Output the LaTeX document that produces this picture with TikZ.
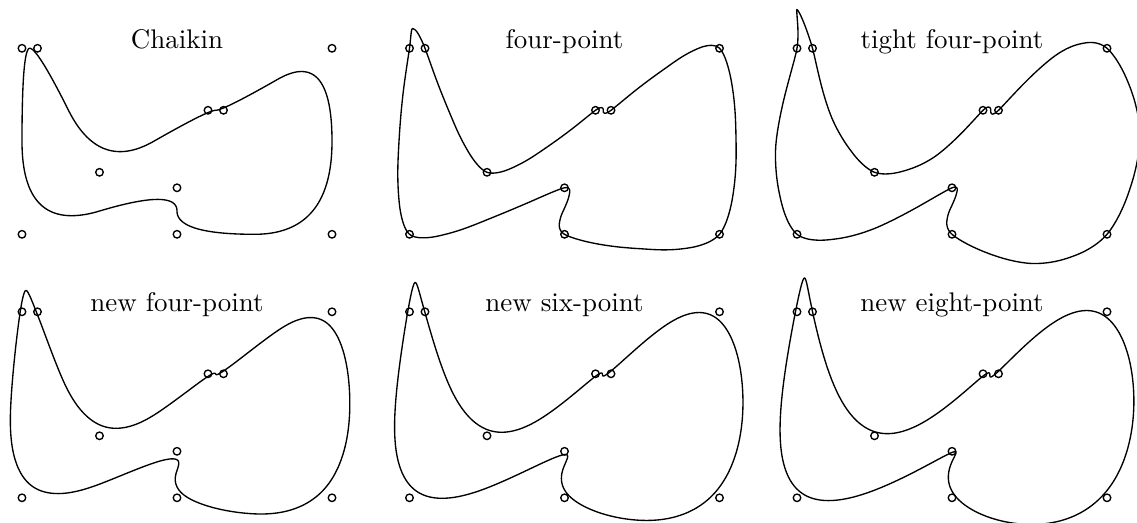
\documentclass[tikz,border=0pt]{standalone}
\ExplSyntaxOn
\int_new:N \l__sub_n_int
\int_new:N \l__sub_k_int
\fp_new:N \l__sub_w_fp
\tl_new:N \l__sub_ex_tl
\tl_new:N \l__sub_ey_tl
\tl_new:N \l__sub_path_tl
\tl_new:N \l__sub_name_tl
\tl_new:N \l__sub_pts_tl
\seq_new:N \l__sub_even_seq
\seq_new:N \l__sub_odd_seq

\cs_new_protected:Npn \__sub_lagrange:Nnnn #1 #2 #3 #4
  {
    \seq_clear:N #1
    \int_step_inline:nnn {#2} {#3}
      {
        \fp_set:Nn \l__sub_w_fp {1}
        \int_step_inline:nnn {#2} {#3}
          {
            \int_compare:nNnF {##1} = {####1}
              {
                \fp_set:Nn \l__sub_w_fp
                  { \l__sub_w_fp * ( (#4) - (####1) ) / ( (##1) - (####1) ) }
              }
          }
        \seq_put_right:Nx #1 { {##1} { \fp_use:N \l__sub_w_fp } }
      }
  }

\cs_new_protected:Npn \__sub_fourpoint:n #1
  {
    \seq_clear:N \l__sub_even_seq
    \seq_put_right:Nn \l__sub_even_seq { {0}{1} }
    \seq_clear:N \l__sub_odd_seq
    \seq_put_right:Nx \l__sub_odd_seq { {-1}{ \fp_to_decimal:n { -(#1) } } }
    \seq_put_right:Nx \l__sub_odd_seq { {0}{ \fp_to_decimal:n { 0.5 + (#1) } } }
    \seq_put_right:Nx \l__sub_odd_seq { {1}{ \fp_to_decimal:n { 0.5 + (#1) } } }
    \seq_put_right:Nx \l__sub_odd_seq { {2}{ \fp_to_decimal:n { -(#1) } } }
  }

\cs_new_protected:Npn \__sub_scheme:n #1
  {
    \str_case:nn {#1}
      {
        {chaikin}
          {
            \seq_clear:N \l__sub_even_seq
            \seq_put_right:Nn \l__sub_even_seq { {0}{0.75} }
            \seq_put_right:Nn \l__sub_even_seq { {1}{0.25} }
            \seq_clear:N \l__sub_odd_seq
            \seq_put_right:Nn \l__sub_odd_seq { {0}{0.25} }
            \seq_put_right:Nn \l__sub_odd_seq { {1}{0.75} }
          }
        {four}  { \__sub_fourpoint:n { 1/16 } }
        {tight} { \__sub_fourpoint:n { 1/8 } }
        {dualfour}
          {
            \__sub_lagrange:Nnnn \l__sub_even_seq {-1} {2} {0.25}
            \__sub_lagrange:Nnnn \l__sub_odd_seq {-1} {2} {0.75}
          }
        {dualsix}
          {
            \__sub_lagrange:Nnnn \l__sub_even_seq {-2} {3} {0.25}
            \__sub_lagrange:Nnnn \l__sub_odd_seq {-2} {3} {0.75}
          }
        {dualeight}
          {
            \__sub_lagrange:Nnnn \l__sub_even_seq {-3} {4} {0.25}
            \__sub_lagrange:Nnnn \l__sub_odd_seq {-3} {4} {0.75}
          }
      }
  }

\cs_new_protected:Npn \__sub_point:Nnn #1 #2 #3
  {
    \tl_clear:N \l__sub_ex_tl
    \tl_clear:N \l__sub_ey_tl
    \seq_map_inline:Nn #1
      {
        \int_set:Nn \l__sub_k_int
          { \int_mod:nn { #2 + \use_i:nn ##1 + 8 * \l__sub_n_int } { \l__sub_n_int } }
        \tl_put_right:Nx \l__sub_ex_tl
          { + ( \use_ii:nn ##1 ) * ( \use:c { l__sub_x_ \int_use:N \l__sub_k_int _tl } ) }
        \tl_put_right:Nx \l__sub_ey_tl
          { + ( \use_ii:nn ##1 ) * ( \use:c { l__sub_y_ \int_use:N \l__sub_k_int _tl } ) }
      }
    \tl_set:cx { l__sub_nx_ #3 _tl } { \fp_to_decimal:n { 0 \l__sub_ex_tl } }
    \tl_set:cx { l__sub_ny_ #3 _tl } { \fp_to_decimal:n { 0 \l__sub_ey_tl } }
  }

\cs_new_protected:Npn \__sub_step:
  {
    \int_step_inline:nnn {0} { \l__sub_n_int - 1 }
      {
        \__sub_point:Nnn \l__sub_even_seq {##1} { \int_eval:n { 2 * ##1 } }
        \__sub_point:Nnn \l__sub_odd_seq {##1} { \int_eval:n { 2 * ##1 + 1 } }
      }
    \int_set:Nn \l__sub_n_int { 2 * \l__sub_n_int }
    \int_step_inline:nnn {0} { \l__sub_n_int - 1 }
      {
        \tl_set_eq:cc { l__sub_x_ ##1 _tl } { l__sub_nx_ ##1 _tl }
        \tl_set_eq:cc { l__sub_y_ ##1 _tl } { l__sub_ny_ ##1 _tl }
      }
    \str_if_eq:VnT \l__sub_name_tl {tight} { \__sub_fourpoint:n { 1/16 } }
  }

\NewDocumentCommand \SubCurve { O{} m m m }
  {
    \tl_set:Nx \l__sub_name_tl {#2}
    \tl_set:No \l__sub_pts_tl {#4}
    \int_zero:N \l__sub_n_int
    \tl_map_inline:Nn \l__sub_pts_tl
      {
        \tl_set:cx { l__sub_x_ \int_use:N \l__sub_n_int _tl } { \use_i:nn ##1 }
        \tl_set:cx { l__sub_y_ \int_use:N \l__sub_n_int _tl } { \use_ii:nn ##1 }
        \int_incr:N \l__sub_n_int
      }
    \exp_args:NV \__sub_scheme:n \l__sub_name_tl
    \prg_replicate:nn {#3} { \__sub_step: }
    \tl_set:Nx \l__sub_path_tl
      {
        ( \fp_to_decimal:n { round( \use:c { l__sub_x_0_tl } , 4 ) } ,
          \fp_to_decimal:n { round( \use:c { l__sub_y_0_tl } , 4 ) } )
      }
    \int_step_inline:nnn {1} { \l__sub_n_int - 1 }
      {
        \tl_put_right:Nx \l__sub_path_tl
          {
            -- ( \fp_to_decimal:n { round( \use:c { l__sub_x_ ##1 _tl } , 4 ) } ,
                 \fp_to_decimal:n { round( \use:c { l__sub_y_ ##1 _tl } , 4 ) } )
          }
      }
    \tl_set:Nx \l__sub_path_tl
      { \exp_not:N \draw \exp_not:n { [#1] } \exp_not:V \l__sub_path_tl -- cycle ; }
    \tl_use:N \l__sub_path_tl
  }
\ExplSyntaxOff

\newcommand\ctrlpts{{{0}{12}}{{1}{12}}{{5}{4}}{{12}{8}}{{13}{8}}{{20}{12}}{{20}{0}}{{10}{0}}{{10}{3}}{{0}{0}}}

\tikzset{
  curve/.style={line width=0.5pt, line join=round},
  ctrl/.style={circle, draw, line width=0.5pt, minimum size=2.8pt, inner sep=0pt},
  lbl/.style={anchor=base, inner sep=0pt, font=\fontsize{10}{12}\selectfont}
}

\begin{document}
\begin{tikzpicture}[x=5.753pt, y=5.753pt]
\useasboundingbox (-1.419,-18.626) rectangle (71.935,15.116);
\foreach \p/\sx/\sy/\sch/\txt in {
  1/0/0/chaikin/Chaikin,
  2/25/0/four/four-point,
  3/50/0/tight/tight four-point,
  4/0/-17/dualfour/new four-point,
  5/25/-17/dualsix/new six-point,
  6/50/-17/dualeight/new eight-point}
{
  \begin{scope}[shift={(\sx,\sy)}]
    \SubCurve[curve]{\sch}{6}{\ctrlpts}
    \foreach \n/\x/\y in {A/0/12, B/1/12, C/5/4, D/12/8, E/13/8, F/20/12, G/20/0, H/10/0, I/10/3, J/0/0}
      \node[ctrl] (p\p\n) at (\x,\y) {};
    \node[lbl] (title\p) at (10,12) {\txt};
  \end{scope}
}
\end{tikzpicture}
\end{document}
